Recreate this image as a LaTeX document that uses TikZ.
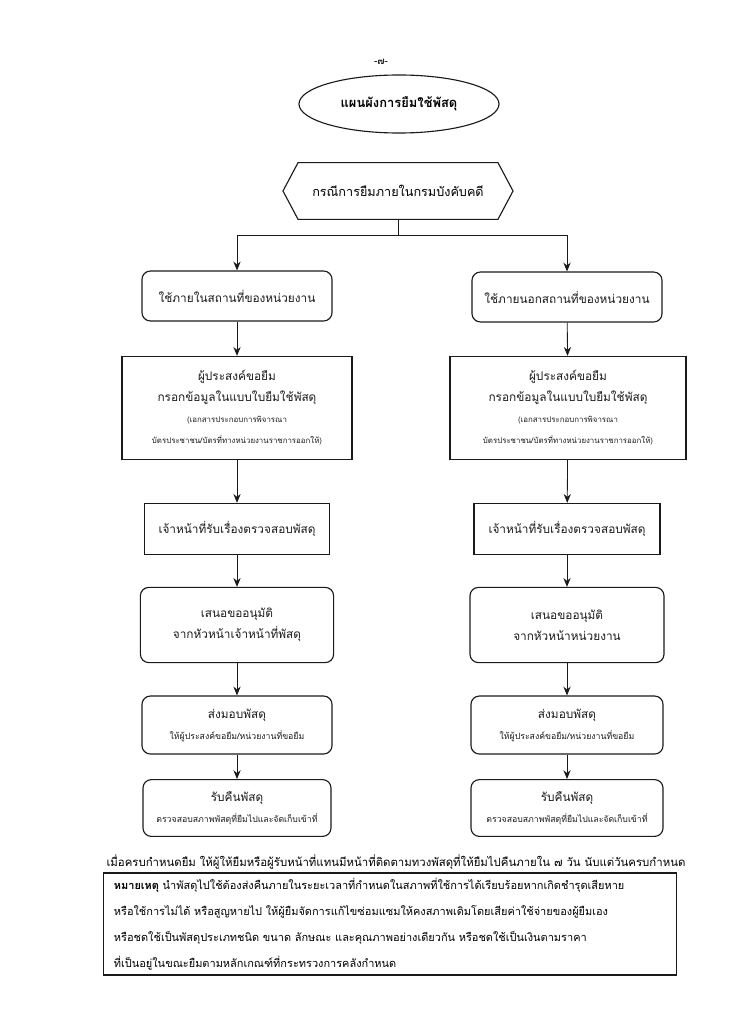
\documentclass[tikz,border=0pt]{standalone}
\usepackage{fontspec}
\setmainfont[Script=Thai]{Loma}
\usetikzlibrary{arrows.meta,positioning,shapes.geometric,shapes.symbols}
\definecolor{ink}{HTML}{1A1A1A}
\tikzset{
  box/.style={rounded corners=6pt,draw=ink,line width=0.8pt,align=center,
    text=ink,inner sep=3pt,font=\fontsize{8.4}{15}\selectfont},
  sqbox/.style={draw=ink,line width=0.8pt,align=center,text=ink,inner sep=3pt,
    font=\fontsize{8.4}{15}\selectfont},
  arr/.style={-{Stealth[length=2.2mm,width=1.8mm]},line width=0.6pt,draw=ink},
  link/.style={line width=0.6pt,draw=ink},
}

\begin{document}
\begin{tikzpicture}[x=0.025cm,y=-0.025cm]
  \useasboundingbox (0,0) rectangle (730,1024);
  \node[font=\fontsize{7}{8}\selectfont] (pg) at (381,62) {-๗-};
  \node[ellipse,draw=ink,line width=0.8pt,minimum width=5cm,minimum height=1.45cm,
        font=\bfseries\fontsize{9.2}{13}\selectfont] (title) at (399,104) {แผนผังการยืมใช้พัสดุ};
  \node[signal,signal to=west and east,signal pointer angle=124,draw=ink,line width=0.8pt,
        minimum width=5.75cm,minimum height=1.42cm,
        font=\fontsize{9}{13}\selectfont] (case) at (398,191) {กรณีการยืมภายในกรมบังคับคดี};
  \coordinate (split) at (398,235);

  % left column
  \node[box,minimum width=4.75cm,minimum height=1.25cm] (inL) at (237,296)
    {ใช้ภายในสถานที่ของหน่วยงาน};
  \node[sqbox,minimum width=5.75cm,minimum height=2.58cm] (formL) at (237,408)
    {ผู้ประสงค์ขอยืม\\กรอกข้อมูลในแบบใบยืมใช้พัสดุ\\
     {\fontsize{5.6}{12}\selectfont (เอกสารประกอบการพิจารณา}\\
     {\fontsize{5.6}{12}\selectfont บัตรประชาชน/บัตรที่ทางหน่วยงานราชการออกให้)}};
  \node[sqbox,minimum width=4.63cm,minimum height=1.28cm] (chkL) at (237,529)
    {เจ้าหน้าที่รับเรื่องตรวจสอบพัสดุ};
  \node[box,minimum width=4.83cm,minimum height=1.88cm] (aprL) at (237,625)
    {เสนอขออนุมัติ\\จากหัวหน้าเจ้าหน้าที่พัสดุ};
  \node[box,minimum width=4.75cm,minimum height=1.45cm] (givL) at (237,725)
    {ส่งมอบพัสดุ\\{\fontsize{6.2}{10}\selectfont ให้ผู้ประสงค์ขอยืม/หน่วยงานที่ขอยืม}};
  \node[box,minimum width=4.7cm,minimum height=1.42cm] (retL) at (237,808)
    {รับคืนพัสดุ\\{\fontsize{6.2}{10}\selectfont ตรวจสอบสภาพพัสดุที่ยืมไปและจัดเก็บเข้าที่}};

  % right column
  \node[box,minimum width=4.75cm,minimum height=1.25cm] (outR) at (567,297)
    {ใช้ภายนอกสถานที่ของหน่วยงาน};
  \node[sqbox,minimum width=5.9cm,minimum height=2.58cm] (formR) at (568,408)
    {ผู้ประสงค์ขอยืม\\กรอกข้อมูลในแบบใบยืมใช้พัสดุ\\
     {\fontsize{5.6}{12}\selectfont (เอกสารประกอบการพิจารณา}\\
     {\fontsize{5.6}{12}\selectfont บัตรประชาชน/บัตรที่ทางหน่วยงานราชการออกให้)}};
  \node[sqbox,minimum width=4.65cm,minimum height=1.28cm] (chkR) at (567,529)
    {เจ้าหน้าที่รับเรื่องตรวจสอบพัสดุ};
  \node[box,minimum width=4.85cm,minimum height=1.88cm] (aprR) at (567,625)
    {เสนอขออนุมัติ\\จากหัวหน้าหน่วยงาน};
  \node[box,minimum width=4.8cm,minimum height=1.45cm] (givR) at (567,725)
    {ส่งมอบพัสดุ\\{\fontsize{6.2}{10}\selectfont ให้ผู้ประสงค์ขอยืม/หน่วยงานที่ขอยืม}};
  \node[box,minimum width=4.8cm,minimum height=1.42cm] (retR) at (567,808)
    {รับคืนพัสดุ\\{\fontsize{6.2}{10}\selectfont ตรวจสอบสภาพพัสดุที่ยืมไปและจัดเก็บเข้าที่}};

  \draw[link] (case.south) -- (split);
  \draw[arr] (split) -| (inL.north);
  \draw[arr] (split) -| (outR.north);
  \foreach \a/\b in {inL/formL,formL/chkL,chkL/aprL,aprL/givL,givL/retL,
                     outR/formR,formR/chkR,chkR/aprR,aprR/givR,givR/retR}
    \draw[arr] (\a) -- (\b);

  \node[font=\fontsize{8.1}{9}\selectfont] (due) at (396,862)
    {เมื่อครบกำหนดยืม ให้ผู้ให้ยืมหรือผู้รับหน้าที่แทนมีหน้าที่ติดตามทวงพัสดุที่ให้ยืมไปคืนภายใน ๗ วัน นับแต่วันครบกำหนด};
  \node[draw=ink,line width=0.8pt,minimum width=14.3cm,minimum height=2.55cm,
        text width=13.8cm,align=left,font=\fontsize{7.8}{18.5}\selectfont] (note) at (390,924)
    {\textbf{หมายเหตุ} นำพัสดุไปใช้ต้องส่งคืนภายในระยะเวลาที่กำหนดในสภาพที่ใช้การได้เรียบร้อยหากเกิดชำรุดเสียหาย\\
     หรือใช้การไม่ได้ หรือสูญหายไป ให้ผู้ยืมจัดการแก้ไขซ่อมแซมให้คงสภาพเดิมโดยเสียค่าใช้จ่ายของผู้ยืมเอง\\
     หรือชดใช้เป็นพัสดุประเภทชนิด ขนาด ลักษณะ และคุณภาพอย่างเดียวกัน หรือชดใช้เป็นเงินตามราคา\\
     ที่เป็นอยู่ในขณะยืมตามหลักเกณฑ์ที่กระทรวงการคลังกำหนด};
\end{tikzpicture}
\end{document}
